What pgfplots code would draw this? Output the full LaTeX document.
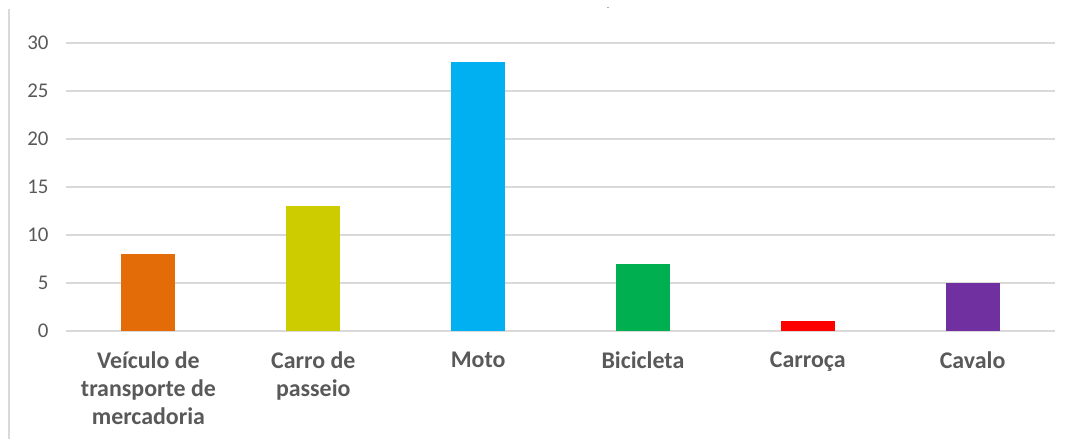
\documentclass[border=0pt]{standalone}
\usepackage{pgfplots}
\pgfplotsset{compat=1.18}
\usepackage{fontspec}
\setmainfont{Carlito}
\definecolor{txt}{HTML}{595959}
\definecolor{gridc}{HTML}{D9D9D9}
\definecolor{c1}{HTML}{E36C09}
\definecolor{c2}{HTML}{CCCC00}
\definecolor{c3}{HTML}{00B0F0}
\definecolor{c4}{HTML}{00B050}
\definecolor{c5}{HTML}{FF0000}
\definecolor{c6}{HTML}{7030A0}
\begin{document}
\begin{tikzpicture}[x=1bp,y=1bp]
\useasboundingbox (0,0) rectangle (1067,439);
\draw[gridc, line width=2bp] (9,0) -- (9,430);
\node[txt, font=\fontsize{8}{8}\selectfont] at (608,430) {-};
\begin{axis}[
  at={(66bp,108bp)}, anchor=south west,
  scale only axis, width=989bp, height=288bp,
  xmin=-0.5, xmax=5.5, ymin=0, ymax=30,
  axis line style={draw=none},
  ytick={0,5,...,30},
  ymajorgrids, xmajorgrids=false, grid style={draw=gridc, line width=1.2bp},
  major tick length=0pt,
  xtick={0,...,5},
  xticklabels={Veículo de\\transporte de\\mercadoria, Carro de\\passeio, Moto, Bicicleta, Carroça, Cavalo},
  xticklabel style={txt, font=\fontsize{24}{28}\selectfont\bfseries, align=center, yshift=-17bp, anchor=north},
  yticklabel style={txt, font=\fontsize{21}{21}\selectfont, xshift=-14bp},
  /pgf/number format/assume math mode=true,
  ybar, bar width=54bp, bar shift=0pt,
  clip=false,
]
\addplot[fill=c1, draw=none] coordinates {(0,8)};
\addplot[fill=c2, draw=none] coordinates {(1,13)};
\addplot[fill=c3, draw=none] coordinates {(2,28)};
\addplot[fill=c4, draw=none] coordinates {(3,7)};
\addplot[fill=c5, draw=none] coordinates {(4,1)};
\addplot[fill=c6, draw=none] coordinates {(5,5)};
\end{axis}
\end{tikzpicture}
\end{document}
